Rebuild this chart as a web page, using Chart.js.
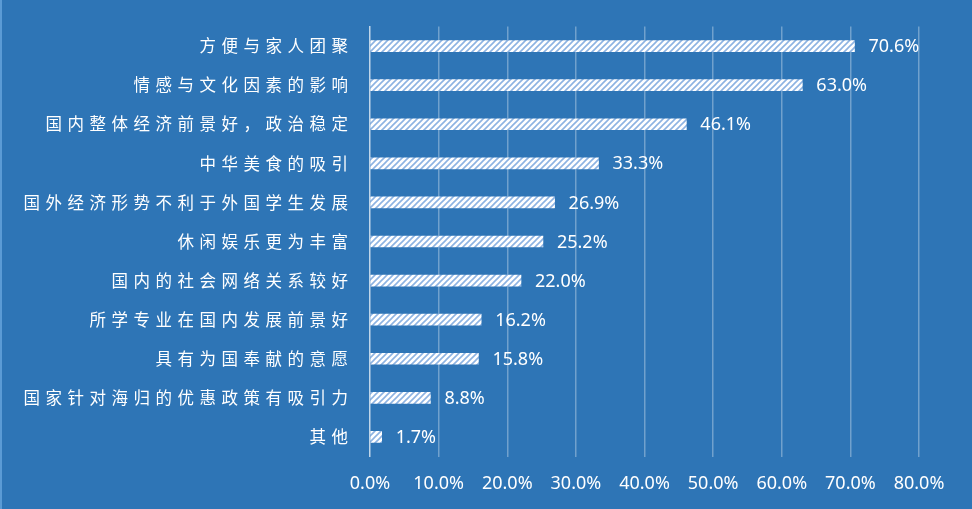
<!DOCTYPE html>
<html>
<head>
<meta charset="utf-8">
<script src="https://cdn.jsdelivr.net/npm/chart.js@4"></script>
<style>
  html, body { margin: 0; padding: 0; background: #2E75B6; }
  #wrap { width: 972px; height: 509px; position: relative; box-sizing: border-box; border-left: 2px solid #5B9BD5; }
</style>
</head>
<body>
<div id="wrap"><canvas id="reasonChart"></canvas></div>
<script>
const reasons = [
  '方便与家人团聚',
  '情感与文化因素的影响',
  '国内整体经济前景好，政治稳定',
  '中华美食的吸引',
  '国外经济形势不利于外国学生发展',
  '休闲娱乐更为丰富',
  '国内的社会网络关系较好',
  '所学专业在国内发展前景好',
  '具有为国奉献的意愿',
  '国家针对海归的优惠政策有吸引力',
  '其他'
];
const percents = [70.6, 63.0, 46.1, 33.3, 26.9, 25.2, 22.0, 16.2, 15.8, 8.8, 1.7];
const axisMax = 80;
const axisStep = 10;

// white bars with light blue diagonal hatching
function hatch() {
  const c = document.createElement('canvas');
  c.width = 6; c.height = 6;
  const g = c.getContext('2d');
  g.fillStyle = '#ffffff';
  g.fillRect(0, 0, 6, 6);
  g.strokeStyle = '#8db3e2';
  g.lineWidth = 1.6;
  g.beginPath();
  g.moveTo(-1, 7); g.lineTo(7, -1);
  g.moveTo(-4, 4); g.lineTo(4, -4);
  g.moveTo(2, 10); g.lineTo(10, 2);
  g.stroke();
  return g.createPattern(c, 'repeat');
}

const valueLabels = {
  id: 'valueLabels',
  afterDatasetsDraw(chart) {
    const ctx = chart.ctx;
    const meta = chart.getDatasetMeta(0);
    ctx.save();
    ctx.font = '18px "Noto Sans", sans-serif';
    ctx.fillStyle = '#ffffff';
    ctx.textAlign = 'left';
    ctx.textBaseline = 'middle';
    meta.data.forEach((bar, i) => {
      ctx.fillText(percents[i].toFixed(1) + '%', bar.x + 14, bar.y + 1);
    });
    ctx.restore();
  }
};

const reasonChart = new Chart(document.getElementById('reasonChart'), {
  type: 'bar',
  data: {
    labels: reasons,
    datasets: [{
      data: percents,
      backgroundColor: hatch(),
      borderWidth: 0,
      barThickness: 11
    }]
  },
  options: {
    indexAxis: 'y',
    responsive: true,
    maintainAspectRatio: false,
    animation: false,
    layout: { padding: { top: 26.5, right: 53, left: 0, bottom: 0 } },
    plugins: {
      legend: { display: false },
      tooltip: { enabled: false }
    },
    scales: {
      x: {
        min: 0,
        max: axisMax,
        ticks: {
          stepSize: axisStep,
          color: '#ffffff',
          padding: 17,
          font: { family: '"Noto Sans", sans-serif', size: 18 },
          callback: v => v.toFixed(1) + '%'
        },
        grid: {
          color: c => c.index === 0 ? 'rgba(0,0,0,0)' : 'rgba(255,255,255,0.32)',
          lineWidth: 1.5,
          drawTicks: false
        },
        border: { display: false },
        afterFit: s => { s.height = 52.5; }
      },
      y: {
        ticks: {
          color: '#ffffff',
          padding: 0,
          font: { family: '"Noto Sans CJK SC", sans-serif', size: 16.5 },
          // spaced characters, trailing gap before the axis line
          callback: function (v) { return this.getLabelForValue(v).split('').join('\u2004') + '\u2003\u2004'; }
        },
        grid: { display: false, drawTicks: false },
        border: { color: 'rgba(255,255,255,0.7)', width: 1.5 },
        afterFit: s => { s.width = 368; }
      }
    }
  },
  plugins: [valueLabels]
});
</script>
</body>
</html>
